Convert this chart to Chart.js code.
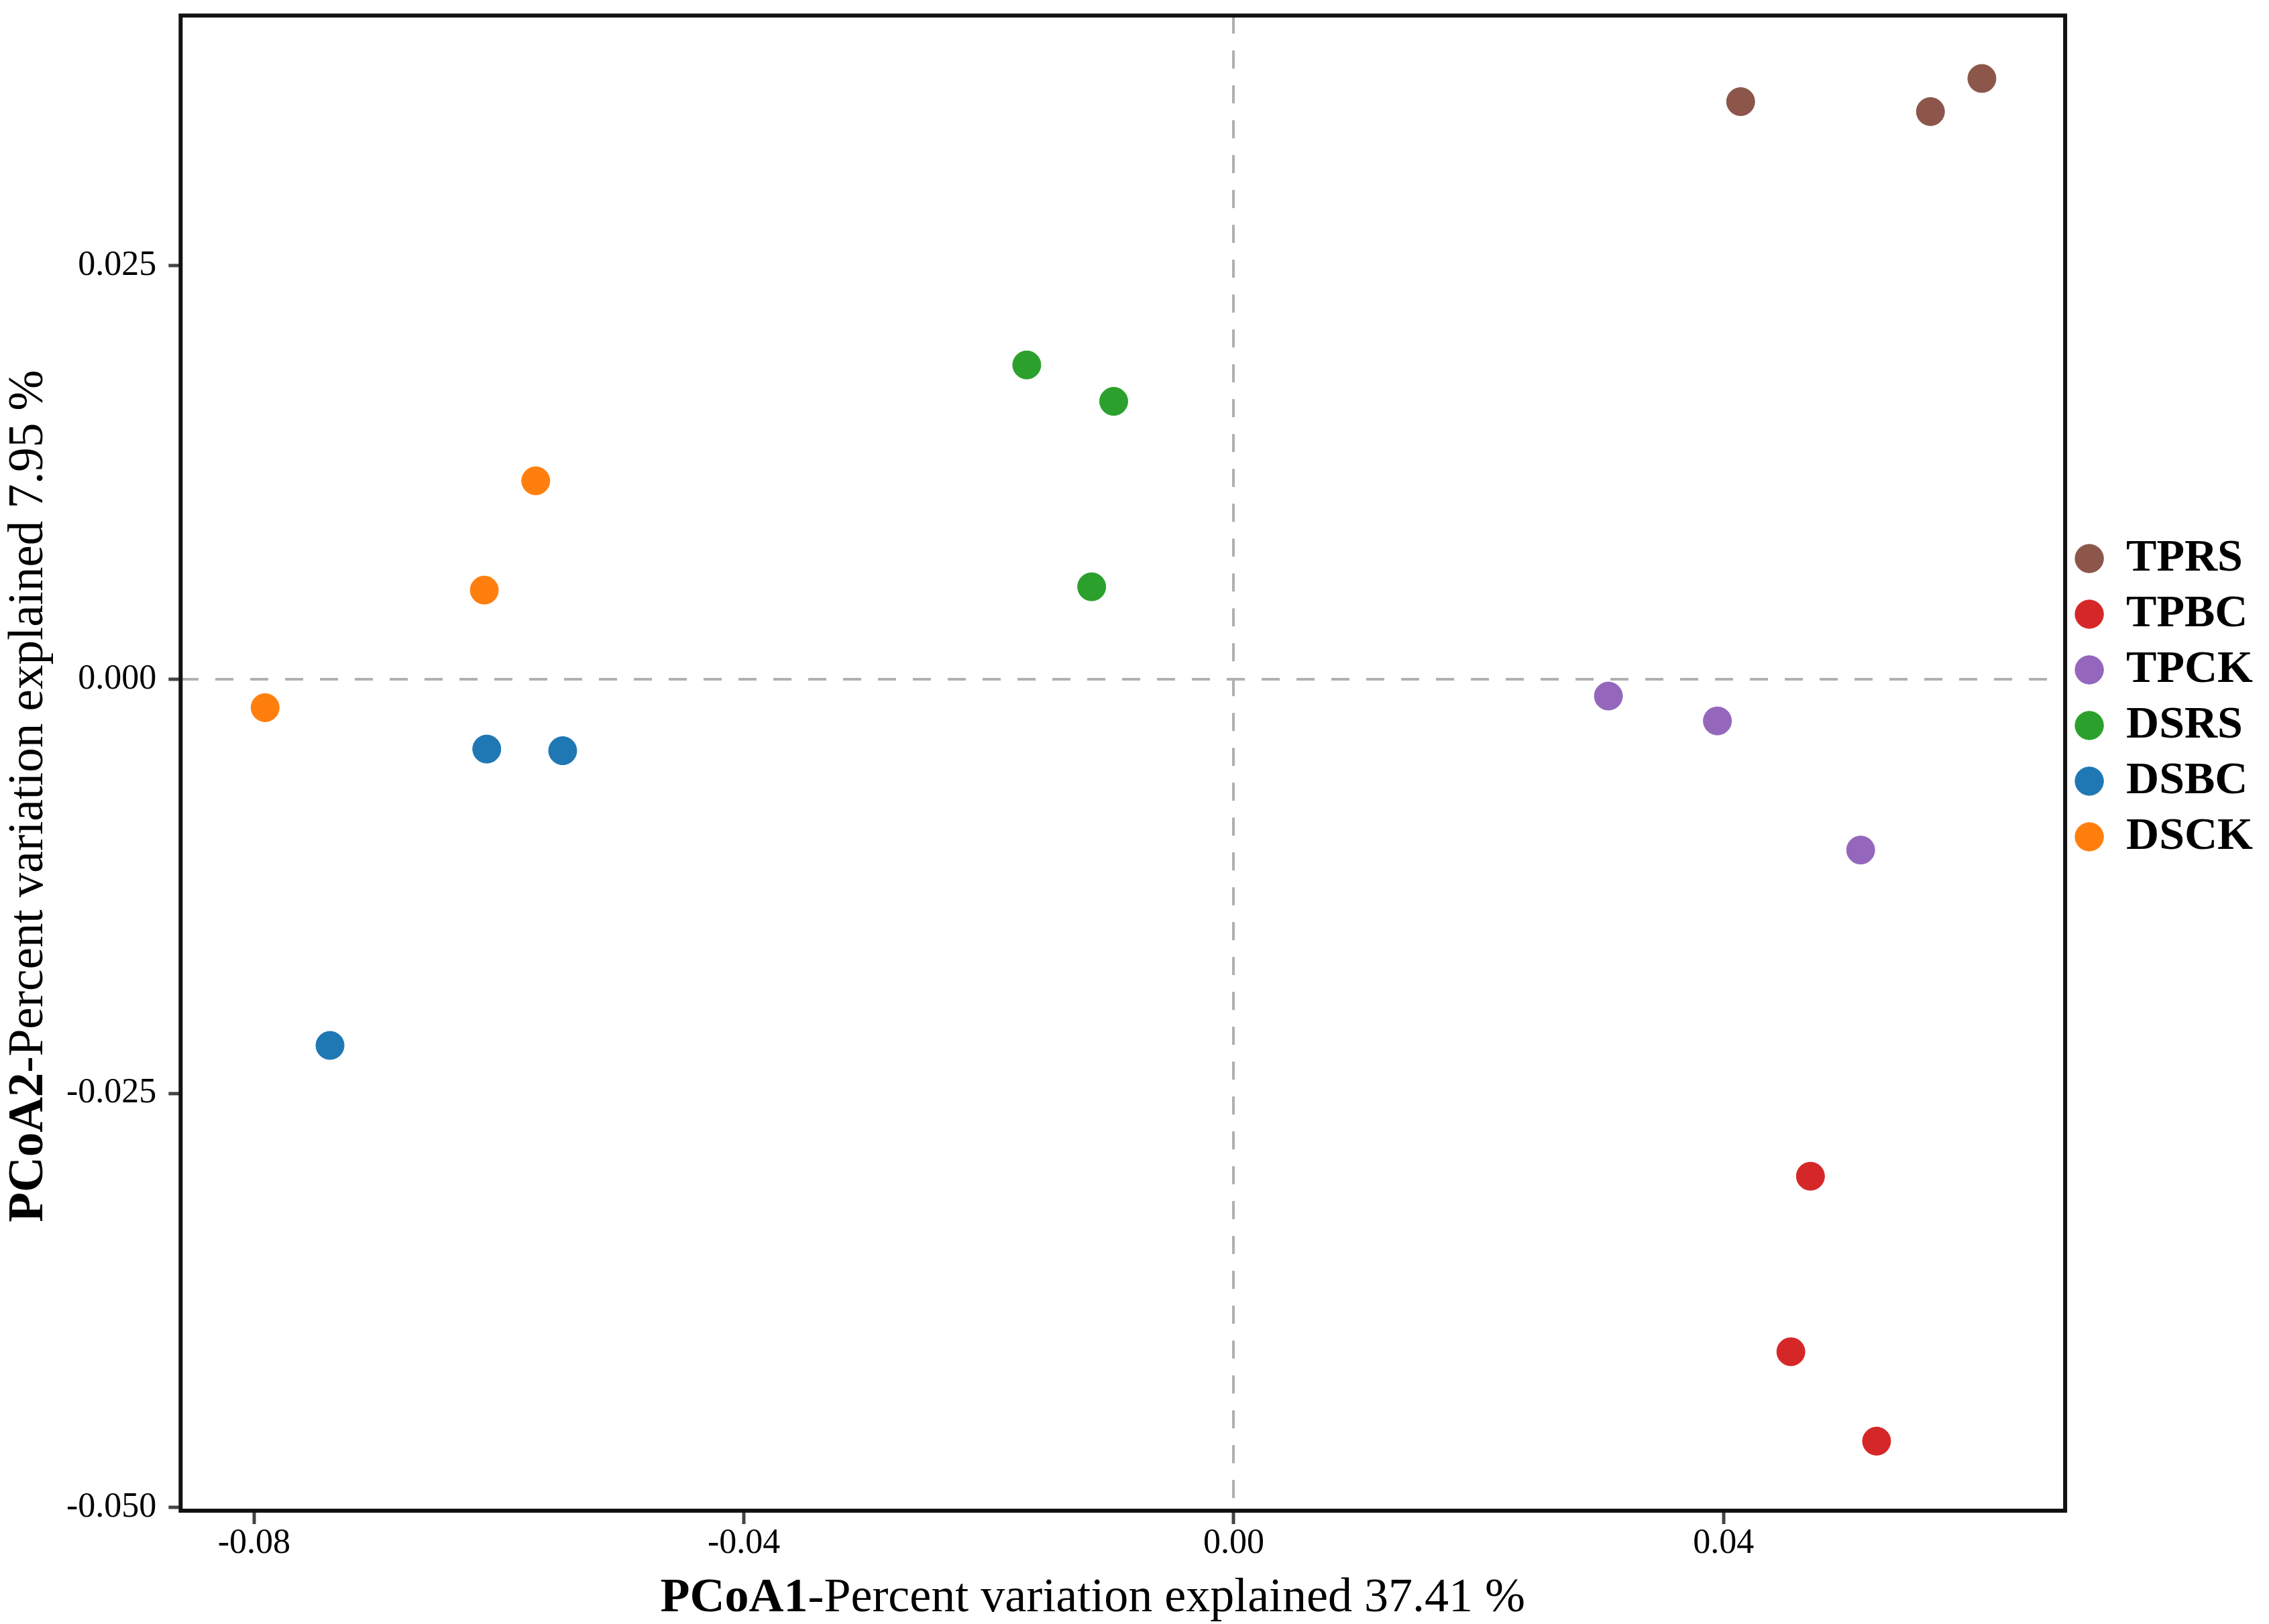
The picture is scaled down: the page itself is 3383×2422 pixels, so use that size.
<!DOCTYPE html>
<html>
<head>
<meta charset="utf-8">
<title>PCoA</title>
<script src="https://cdn.jsdelivr.net/npm/chart.js@4.4.1/dist/chart.umd.min.js"></script>
<style>
    html, body { margin: 0; padding: 0; background: #fff; }
    #wrap { width: 3383px; height: 2422px; }
</style>
</head>
<body>
<div id="wrap"><canvas id="pcoaChart"></canvas></div>
<script>
const groups = ['TPRS', 'TPBC', 'TPCK', 'DSRS', 'DSBC', 'DSCK'];
const groupColors = ['#8c564b', '#d62728', '#9467bd', '#2ca02c', '#1f77b4', '#ff7f0e'];

// PCoA1 / PCoA2 scores, three samples per group
const tprsPC1 = [0.0414, 0.0569, 0.0611];
const tprsPC2 = [0.0349, 0.0343, 0.0363];
const tpbcPC1 = [0.0471, 0.0455, 0.0525];
const tpbcPC2 = [-0.0300, -0.0406, -0.0460];
const tpckPC1 = [0.0306, 0.0395, 0.0512];
const tpckPC2 = [-0.0010, -0.0025, -0.0103];
const dsrsPC1 = [-0.0169, -0.0098, -0.0116];
const dsrsPC2 = [0.0190, 0.0168, 0.0056];
const dsbcPC1 = [-0.0610, -0.0548, -0.0738];
const dsbcPC2 = [-0.0042, -0.0043, -0.0221];
const dsckPC1 = [-0.0570, -0.0612, -0.0791];
const dsckPC2 = [0.0120, 0.0054, -0.0017];

const xTicks = [-0.08, -0.04, 0, 0.04];
const xTickLabels = ['-0.08', '-0.04', '0.00', '0.04'];
const yTicks = [-0.05, -0.025, 0, 0.025];
const yTickLabels = ['-0.050', '-0.025', '0.000', '0.025'];

const xTitleBold = 'PCoA1';
const xTitleRest = '-Percent variation explained 37.41 %';
const yTitleBold = 'PCoA2';
const yTitleRest = '-Percent variation explained 7.95 %';

const pc1Sets = [tprsPC1, tpbcPC1, tpckPC1, dsrsPC1, dsbcPC1, dsckPC1];
const pc2Sets = [tprsPC2, tpbcPC2, tpckPC2, dsrsPC2, dsbcPC2, dsckPC2];

const serif = '"Liberation Serif", "Times New Roman", serif';

function drawTitle(ctx, boldPart, rest, cx, baseline, size) {
    const boldFont = `bold ${size}px ${serif}`;
    const normalFont = `${size}px ${serif}`;
    ctx.font = boldFont;
    const w1 = ctx.measureText(boldPart).width;
    ctx.font = normalFont;
    const w2 = ctx.measureText(rest).width;
    const x = cx - (w1 + w2) / 2;
    ctx.textAlign = 'left';
    ctx.textBaseline = 'alphabetic';
    ctx.font = boldFont;
    ctx.fillText(boldPart, x, baseline);
    ctx.font = normalFont;
    ctx.fillText(rest, x + w1, baseline);
}

// frame round the plot and the two axis titles (bold prefix + normal text)
const framePlugin = {
    id: 'frameAndTitles',
    afterDraw(chart) {
        const {ctx, chartArea: a} = chart;
        ctx.save();
        ctx.strokeStyle = '#111';
        ctx.lineWidth = 6;
        ctx.strokeRect(a.left, a.top, a.right - a.left, a.bottom - a.top);

        ctx.fillStyle = '#000';
        drawTitle(ctx, xTitleBold, xTitleRest,
            a.left + (a.right - a.left) * 0.484, a.bottom + 150, 72);

        ctx.translate(a.left - 206, a.top + (a.bottom - a.top) * 0.522);
        ctx.rotate(-Math.PI / 2);
        drawTitle(ctx, yTitleBold, yTitleRest, 0, 0, 73);
        ctx.restore();
    }
};

const zeroLine = c => c.tick && c.tick.value === 0 ? '#b0b0b0' : 'rgba(0,0,0,0)';

const datasets = groups.map((g, i) => ({
    label: g,
    data: pc1Sets[i].map((x, j) => ({x: x, y: pc2Sets[i][j]})),
    backgroundColor: groupColors[i],
    borderColor: groupColors[i],
    borderWidth: 1,
    pointRadius: 21,
    pointHoverRadius: 21
}));

new Chart(document.getElementById('pcoaChart'), {
    type: 'scatter',
    data: {datasets},
    options: {
        responsive: true,
        maintainAspectRatio: false,
        devicePixelRatio: 1,
        animation: false,
        layout: {
            padding: {left: 81, right: 14, top: 23, bottom: 91}
        },
        plugins: {
            tooltip: {enabled: false},
            legend: {
                position: 'right',
                align: 'start',
                title: {
                    display: true,
                    text: '',
                    font: {size: 1, lineHeight: 1},
                    padding: {top: 760, bottom: 0}
                },
                labels: {
                    usePointStyle: true,
                    pointStyle: 'circle',
                    boxWidth: 42,
                    boxHeight: 30,
                    padding: 15,
                    color: '#000',
                    font: {family: serif, size: 68, weight: 'bold'}
                }
            }
        },
        scales: {
            x: {
                type: 'linear',
                min: -0.0860,
                max: 0.0679,
                afterBuildTicks: s => { s.ticks = xTicks.map(v => ({value: v})); },
                ticks: {
                    callback: (v, i) => xTickLabels[i],
                    color: '#000',
                    padding: 3,
                    maxRotation: 0,
                    font: {family: serif, size: 52, lineHeight: 1}
                },
                grid: {
                    color: zeroLine,
                    lineWidth: 4,
                    tickLength: 20,
                    tickColor: '#444',
                    tickWidth: 5
                },
                border: {display: false, dash: [27, 25]}
            },
            y: {
                type: 'linear',
                min: -0.0502,
                max: 0.0401,
                afterBuildTicks: s => { s.ticks = yTicks.map(v => ({value: v})); },
                ticks: {
                    callback: (v, i) => yTickLabels[i],
                    color: '#000',
                    padding: 18,
                    font: {family: serif, size: 52, lineHeight: 0.2}
                },
                grid: {
                    color: zeroLine,
                    lineWidth: 4,
                    tickLength: 18,
                    tickColor: '#444',
                    tickWidth: 5
                },
                border: {display: false, dash: [27, 25]}
            }
        }
    },
    plugins: [framePlugin]
});
</script>
</body>
</html>
